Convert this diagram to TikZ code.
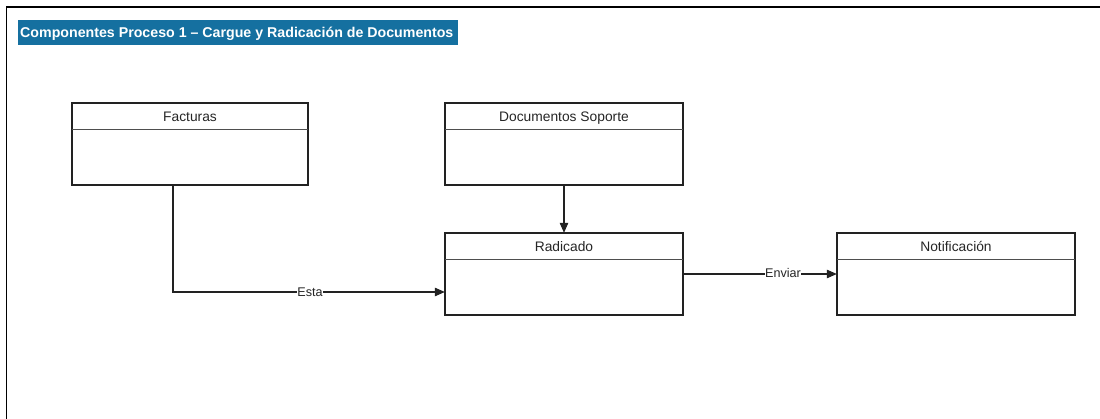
\documentclass[tikz,border=0pt]{standalone}
\usepackage{fontspec}
\setmainfont{Liberation Sans}
\usetikzlibrary{arrows.meta}
\definecolor{titlebg}{HTML}{1570A0}
\definecolor{edge}{HTML}{222222}
\tikzset{
  pane/.style={draw=edge, line width=1.1pt, fill=white},
  hdr/.style={font=\fontsize{13.8}{16}\selectfont, text=black!85, anchor=base, inner sep=0pt},
  lbl/.style={font=\fontsize{12.6}{14}\selectfont, fill=white, inner sep=0.5pt, text=black!85},
  link/.style={draw=edge, line width=1.1pt, -{Triangle[length=10pt,width=8.5pt]}},
}
% entity: rectangle with a header strip
\newcommand{\entity}[5]{% name, left, top, right, label
  \path[pane] (#2,#3) rectangle (#4,#3+82);
  \draw[edge!80, line width=0.9pt] (#2,#3+26) -- (#4,#3+26);
  \node[hdr] (#1-h) at ({(#2+#4)/2},#3+19) {#5};
  \node[inner sep=0pt, minimum width={(#4-#2)*1pt}, minimum height=82pt] (#1) at ({(#2+#4)/2},#3+41) {};
}
\begin{document}
\begin{tikzpicture}[x=1pt,y=-1pt]
\useasboundingbox (0,0) rectangle (1100,419);
\fill[white] (0,0) rectangle (1100,419);
% frame
\draw[black, line width=1.8pt] (6.5,419) -- (6.5,7) -- (1100,7);
% title
\fill[titlebg] (18,20) rectangle (458,45);
\node[font=\bfseries\fontsize{14.2}{16}\selectfont, text=white, anchor=base west, inner sep=0pt] (title) at (20,37.5) {Componentes Proceso 1 -- Cargue y Radicación de Documentos};
% entities
\entity{fac}{72}{103}{308}{Facturas}
\entity{doc}{445}{103}{683}{Documentos Soporte}
\entity{rad}{445}{233}{683}{Radicado}
\entity{noti}{837}{233}{1075}{Notificación}
% connectors
\coordinate (bend) at (173,292);
\draw[link] (fac.south -| bend) -- (bend) -- (rad.west |- bend);
\node[lbl] (esta) at (310,292) {Esta};
\coordinate (s) at (683,274);
\draw[link] (rad.east |- s) -- (noti.west |- s);
\node[lbl] (enviar) at (783,273) {Enviar};
\draw[link] (doc.south) -- (rad.north);
\end{tikzpicture}
\end{document}
